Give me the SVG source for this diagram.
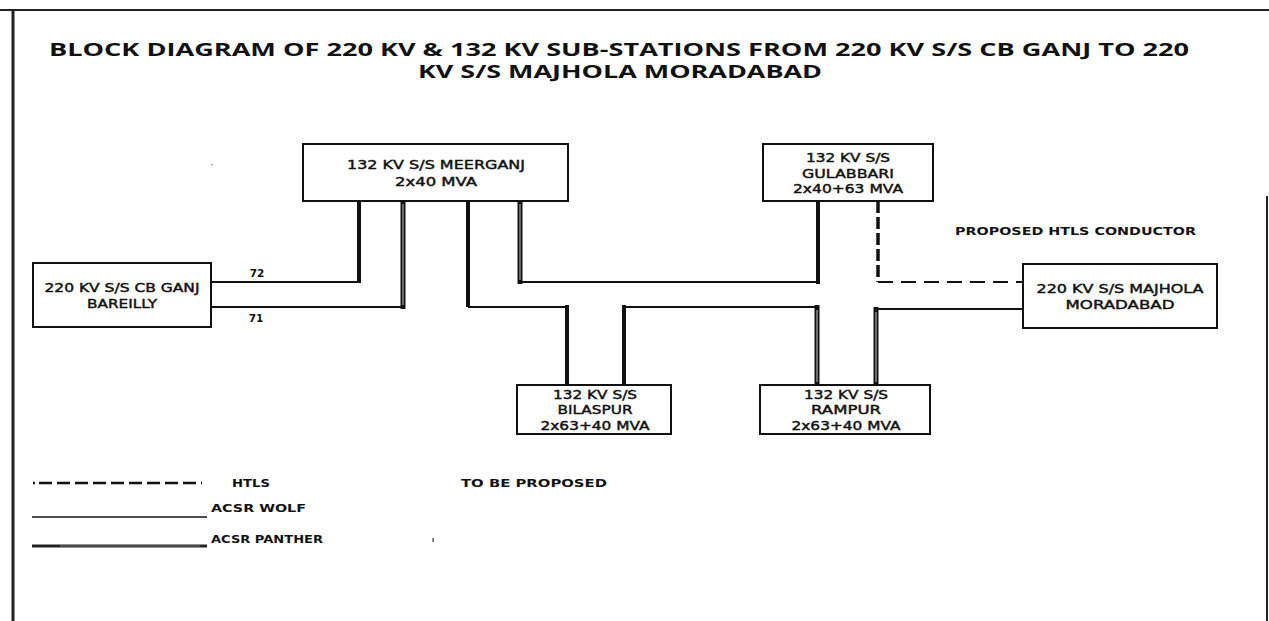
<svg xmlns="http://www.w3.org/2000/svg" width="1269" height="621" viewBox="0 0 1269 621">
<style>
.box{fill:#fff;stroke:#111;stroke-width:2}
.bt{font-family:"DejaVu Sans",sans-serif;font-size:12.5px;fill:#111;stroke:#111;stroke-width:0.45;text-anchor:middle}
.title{font-family:"Open Sans","DejaVu Sans",sans-serif;font-weight:bold;font-size:18px;fill:#111;text-anchor:middle}
.lbl{font-family:"DejaVu Sans",sans-serif;font-weight:bold;font-size:10.5px;fill:#111}
.thin{fill:none;stroke:#111;stroke-width:2}
.thick{fill:none;stroke:#111;stroke-width:4}
.pan{fill:none;stroke:#111;stroke-width:5}
.panc{fill:none;stroke:#aaa;stroke-width:1.2}
.dashv{fill:none;stroke:#111;stroke-width:3.5;stroke-dasharray:12 4}
.dashh{fill:none;stroke:#111;stroke-width:2;stroke-dasharray:15 8}
.frame{fill:none;stroke:#222}
</style>
<rect width="1269" height="621" fill="#fff"/>
<g id="frame">
<line class="frame" x1="0" y1="10" x2="1269" y2="10" stroke-width="2"/>
<line class="frame" x1="13" y1="10" x2="13" y2="621" stroke-width="3"/>
<line class="frame" x1="1267" y1="196" x2="1267" y2="621" stroke-width="2"/>
</g>
<g id="title">
<text class="title" x="619" y="56" textLength="1140" lengthAdjust="spacingAndGlyphs">BLOCK DIAGRAM OF 220 KV &amp; 132 KV SUB-STATIONS FROM 220 KV S/S CB GANJ TO 220</text>
<text class="title" x="620" y="78" textLength="404" lengthAdjust="spacingAndGlyphs">KV S/S MAJHOLA MORADABAD</text>
</g>
<g id="connectors">
<path class="thin" d="M211,282 H359"/>
<path class="thick" d="M359,283 V201"/>
<path class="thin" d="M211,307 H403"/>
<path class="pan" d="M403,309 V201"/><path class="panc" d="M403,305 V204"/>
<path class="thick" d="M468,201 V307"/>
<path class="thin" d="M468,307 H567"/>
<path class="thick" d="M567,305 V385"/>
<path class="pan" d="M520,201 V284"/><path class="panc" d="M520,204 V280"/>
<path class="thin" d="M520,282 H818"/>
<path class="thick" d="M818,284 V201"/>
<path class="thick" d="M624,385 V305"/>
<path class="thin" d="M624,307 H817" stroke-width="2.5"/>
<path class="pan" d="M817,305 V385"/><path class="panc" d="M817,310 V382"/>
<path class="thin" d="M1023,309 H876"/>
<path class="pan" d="M876,307 V385"/><path class="panc" d="M876,312 V382"/>
<path class="dashv" d="M878,201 V282"/>
<path class="dashh" d="M878,282 H1023"/>
<text class="lbl" x="257" y="277" font-size="11" text-anchor="middle">72</text>
<text class="lbl" x="256" y="322" font-size="11" text-anchor="middle">71</text>
<text class="lbl" x="955" y="235" textLength="241" lengthAdjust="spacingAndGlyphs">PROPOSED HTLS CONDUCTOR</text>
</g>
<g id="cbganj">
<rect class="box" x="33" y="263" width="178" height="64"/>
<text class="bt" x="122" y="291.5" textLength="155" lengthAdjust="spacingAndGlyphs">220 KV S/S CB GANJ</text>
<text class="bt" x="122" y="307.5" textLength="70" lengthAdjust="spacingAndGlyphs">BAREILLY</text>
</g>
<g id="meerganj">
<rect class="box" x="303" y="144" width="265" height="57"/>
<text class="bt" x="436" y="168.5" textLength="178" lengthAdjust="spacingAndGlyphs">132 KV S/S MEERGANJ</text>
<text class="bt" x="436" y="185.5" textLength="82" lengthAdjust="spacingAndGlyphs">2x40 MVA</text>
</g>
<g id="gulabbari">
<rect class="box" x="763" y="144" width="170" height="57"/>
<text class="bt" x="848" y="161.5" textLength="84" lengthAdjust="spacingAndGlyphs">132 KV S/S</text>
<text class="bt" x="848" y="177.5" textLength="92" lengthAdjust="spacingAndGlyphs">GULABBARI</text>
<text class="bt" x="848" y="192.5" textLength="110" lengthAdjust="spacingAndGlyphs">2x40+63 MVA</text>
</g>
<g id="majhola">
<rect class="box" x="1023" y="264" width="194" height="64"/>
<text class="bt" x="1120" y="292.5" textLength="167" lengthAdjust="spacingAndGlyphs">220 KV S/S MAJHOLA</text>
<text class="bt" x="1120" y="308.5" textLength="109" lengthAdjust="spacingAndGlyphs">MORADABAD</text>
</g>
<g id="bilaspur">
<rect class="box" x="517" y="385" width="154" height="49"/>
<text class="bt" x="595" y="398.5" textLength="84" lengthAdjust="spacingAndGlyphs">132 KV S/S</text>
<text class="bt" x="595" y="413.5" textLength="75" lengthAdjust="spacingAndGlyphs">BILASPUR</text>
<text class="bt" x="595" y="429.5" textLength="109" lengthAdjust="spacingAndGlyphs">2x63+40 MVA</text>
</g>
<g id="rampur">
<rect class="box" x="760" y="385" width="170" height="49"/>
<text class="bt" x="846" y="399" textLength="84" lengthAdjust="spacingAndGlyphs">132 KV S/S</text>
<text class="bt" x="846" y="414" textLength="70" lengthAdjust="spacingAndGlyphs">RAMPUR</text>
<text class="bt" x="846" y="430" textLength="109" lengthAdjust="spacingAndGlyphs">2x63+40 MVA</text>
</g>
<g id="legend">
<line x1="33" y1="483" x2="202" y2="483" stroke="#111" stroke-width="2.5" stroke-dasharray="2 4 13 5 13 5 13 5 13 5 13 5 13 5 13 5 13 5 13 5 2"/>
<text class="lbl" x="232" y="487" textLength="38" lengthAdjust="spacingAndGlyphs">HTLS</text>
<text class="lbl" x="461" y="487" textLength="146" lengthAdjust="spacingAndGlyphs">TO BE PROPOSED</text>
<line x1="32" y1="517" x2="207" y2="517" stroke="#111" stroke-width="1.6"/>
<text class="lbl" x="211" y="512" textLength="95" lengthAdjust="spacingAndGlyphs">ACSR WOLF</text>
<line x1="32" y1="546" x2="207" y2="546" stroke="#222" stroke-width="3"/>
<line x1="60" y1="546" x2="200" y2="546" stroke="#888" stroke-width="0.8"/>
<text class="lbl" x="211" y="543" textLength="112" lengthAdjust="spacingAndGlyphs" font-weight="normal">ACSR PANTHER</text>
<rect x="432.5" y="538" width="1.2" height="4" fill="#333"/>
<rect x="211" y="164" width="1.5" height="1.5" fill="#999"/>
</g>
</svg>
